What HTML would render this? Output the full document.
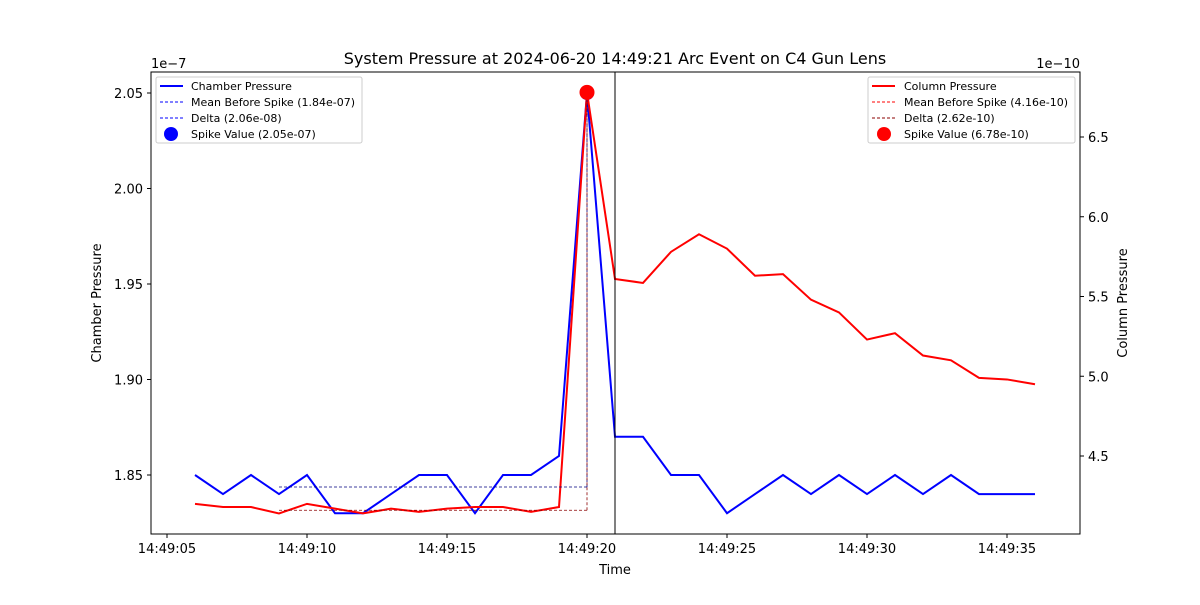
<!DOCTYPE html>
<html><head><meta charset="utf-8"><style>
body{margin:0;background:#fff;font-family:"Liberation Sans","DejaVu Sans",sans-serif}
svg text{font-family:"DejaVu Sans","Liberation Sans",sans-serif}
</style></head><body>
<svg id="chart" width="1200" height="600" xmlns="http://www.w3.org/2000/svg">
<rect width="1200" height="600" fill="#fff"/>
<g id="marks"></g>
<rect x="151" y="72" width="929" height="462" fill="none" stroke="#000" stroke-width="1"/>
<g id="axes"></g>
<text x="615" y="64" font-size="16" text-anchor="middle">System Pressure at 2024-06-20 14:49:21 Arc Event on C4 Gun Lens</text>
<text x="615" y="574" font-size="13" text-anchor="middle">Time</text>
<text x="101" y="303" font-size="13" text-anchor="middle" transform="rotate(-90 101 303)">Chamber Pressure</text>
<text x="1127" y="303" font-size="13" text-anchor="middle" transform="rotate(-90 1127 303)">Column Pressure</text>
<text x="151" y="68" font-size="13">1e−7</text>
<text x="1080" y="68" font-size="13" text-anchor="end">1e−10</text>
<g>
<rect x="156" y="77" width="206" height="66" fill="#fff" stroke="#ccc" rx="2"/>
<line x1="160" y1="86" x2="183" y2="86" stroke="#0000ff" stroke-width="2"/>
<text x="191" y="90" font-size="11">Chamber Pressure</text>
<line x1="160" y1="102" x2="183" y2="102" stroke="#0000ff" stroke-dasharray="3,2"/>
<text x="191" y="106" font-size="11">Mean Before Spike (1.84e-07)</text>
<line x1="160" y1="118" x2="183" y2="118" stroke="#0000ff" stroke-dasharray="3,2"/>
<text x="191" y="122" font-size="11">Delta (2.06e-08)</text>
<circle cx="171" cy="134" r="7" fill="#0000ff"/>
<text x="191" y="138" font-size="11">Spike Value (2.05e-07)</text>
</g>
<g>
<rect x="868" y="77" width="207" height="66" fill="#fff" stroke="#ccc" rx="2"/>
<line x1="872" y1="86" x2="895" y2="86" stroke="#ff0000" stroke-width="2"/>
<text x="904" y="90" font-size="11">Column Pressure</text>
<line x1="872" y1="102" x2="895" y2="102" stroke="#ff0000" stroke-dasharray="3,2"/>
<text x="904" y="106" font-size="11">Mean Before Spike (4.16e-10)</text>
<line x1="872" y1="118" x2="895" y2="118" stroke="#8b0000" stroke-dasharray="3,2"/>
<text x="904" y="122" font-size="11">Delta (2.62e-10)</text>
<circle cx="884" cy="134" r="7" fill="#ff0000"/>
<text x="904" y="138" font-size="11">Spike Value (6.78e-10)</text>
</g>
</svg>
<script>
const seconds=[6,7,8,9,10,11,12,13,14,15,16,17,18,19,20,21,22,23,24,25,26,27,28,29,30,31,32,33,34,35,36];
const chamber=[1.85,1.84,1.85,1.84,1.85,1.83,1.83,1.84,1.85,1.85,1.83,1.85,1.85,1.86,2.05,1.87,1.87,1.85,1.85,1.83,1.84,1.85,1.84,1.85,1.84,1.85,1.84,1.85,1.84,1.84,1.84];
const column=[4.20,4.18,4.18,4.14,4.20,4.17,4.14,4.17,4.15,4.17,4.18,4.18,4.15,4.18,6.78,5.61,5.585,5.78,5.89,5.80,5.63,5.64,5.48,5.40,5.23,5.27,5.13,5.10,4.99,4.98,4.95];
const chamberMean=1.8437, columnMean=4.16;
const meanStart=9, spikeT=20, eventT=21;
const xTicks=[5,10,15,20,25,30,35];
const xTickLabels=["14:49:05","14:49:10","14:49:15","14:49:20","14:49:25","14:49:30","14:49:35"];
const leftTicks=[1.85,1.90,1.95,2.00,2.05];
const rightTicks=[4.5,5.0,5.5,6.0,6.5];
const X=t=>167+28*(t-5);
const YL=v=>475-(v-1.85)*1910;
const YR=v=>456-(v-4.5)*159.5;
const NS="http://www.w3.org/2000/svg";
const marks=document.getElementById('marks'), axes=document.getElementById('axes');
function mk(tag,attrs,parent){const e=document.createElementNS(NS,tag);for(const k in attrs)e.setAttribute(k,attrs[k]);parent.appendChild(e);return e;}
let l;
const si=seconds.indexOf(spikeT);
l=mk('polyline',{points:seconds.map((t,i)=>X(t)+','+YL(chamber[i])).join(' '),fill:'none',stroke:'#0000ff','stroke-width':2},marks);


l=mk('circle',{cx:X(spikeT),cy:YL(chamber[si]),r:7,fill:'#0000ff'},marks);


l=mk('polyline',{points:seconds.map((t,i)=>X(t)+','+YR(column[i])).join(' '),fill:'none',stroke:'#ff0000','stroke-width':2},marks);


l=mk('line',{x1:X(meanStart),x2:X(spikeT),y1:YL(chamberMean),y2:YL(chamberMean),stroke:'#000080','stroke-width':0.8,'stroke-dasharray':'3,2'},marks);


l=mk('line',{x1:X(meanStart),x2:X(spikeT),y1:YR(columnMean),y2:YR(columnMean),stroke:'#8b0000','stroke-width':0.8,'stroke-dasharray':'3,2'},marks);


l=mk('line',{x1:X(spikeT),x2:X(spikeT),y1:YL(chamberMean),y2:YL(chamber[si]),stroke:'#000080','stroke-width':0.8,'stroke-dasharray':'3,2'},marks);


l=mk('line',{x1:X(spikeT),x2:X(spikeT),y1:YR(columnMean),y2:YR(column[si]),stroke:'#8b0000','stroke-width':0.8,'stroke-dasharray':'3,2'},marks);


l=mk('line',{x1:X(eventT),x2:X(eventT),y1:72,y2:534,stroke:'#000','stroke-width':1},marks);


l=mk('circle',{cx:X(spikeT),cy:YR(column[si]),r:7.5,fill:'#ff0000'},marks);


xTicks.forEach((t,i)=>{
 l=mk('line',{x1:X(t),x2:X(t),y1:534,y2:538,stroke:'#000'},axes);
 
 
 l=mk('text',{x:X(t),y:553,'font-size':13,'text-anchor':'middle'},axes);l.textContent=xTickLabels[i];
 
 
});
leftTicks.forEach(v=>{
 l=mk('line',{x1:147,x2:151,y1:YL(v),y2:YL(v),stroke:'#000'},axes);
 
 
 l=mk('text',{x:143,y:YL(v)+5,'font-size':13,'text-anchor':'end'},axes);l.textContent=v.toFixed(2);
 
 
});
rightTicks.forEach(v=>{
 l=mk('line',{x1:1080,x2:1084,y1:YR(v),y2:YR(v),stroke:'#000'},axes);
 
 
 l=mk('text',{x:1088,y:YR(v)+5,'font-size':13},axes);l.textContent=v.toFixed(1);
 
 
});
</script>
</body></html>
